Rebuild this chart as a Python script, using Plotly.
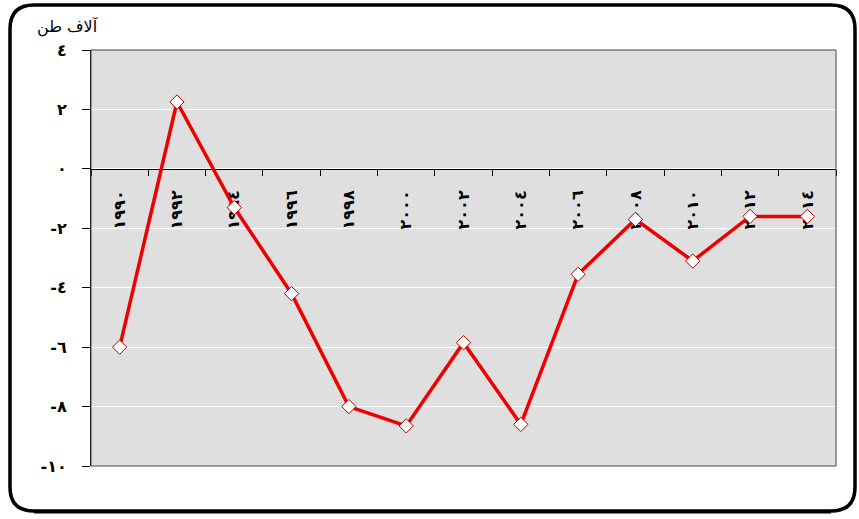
import plotly.graph_objects as go

# Annual balance, thousand tonnes
years = ["١٩٩٠", "١٩٩٢", "١٩٩٤", "١٩٩٦", "١٩٩٨", "٢٠٠٠", "٢٠٠٢",
         "٢٠٠٤", "٢٠٠٦", "٢٠٠٨", "٢٠١٠", "٢٠١٢", "٢٠١٤"]
values = [-6.0, 2.25, -1.3, -4.2, -8.0, -8.65, -5.85,
          -8.6, -3.55, -1.7, -3.1, -1.6, -1.6]

y_ticks = [4, 2, 0, -2, -4, -6, -8, -10]
y_tick_text = ["٤", "٢", "٠", "-٢", "-٤", "-٦", "-٨", "-١٠"]
y_title = "آلاف طن"

W, H = 859, 519
L, R, T, B = 91, 23, 50, 53
PW, PH = W - L - R, H - T - B


def px(x):
    return (x - L) / PW


def py(y):
    return (H - B - y) / PH


fig = go.Figure()
fig.add_trace(go.Scatter(
    x=years, y=values, mode="lines+markers",
    line=dict(color="#ee0000", width=3.5),
    marker=dict(symbol="diamond", size=11, color="white",
                line=dict(color="#b00000", width=1)),
    hoverinfo="x+y", showlegend=False,
))

# rounded frame around the whole chart
x0, x1, y0, y1, r = 10, 855, 5, 511, 24
path = (f"M {px(x0 + r)},{py(y0)} L {px(x1 - r)},{py(y0)} "
        f"Q {px(x1)},{py(y0)} {px(x1)},{py(y0 + r)} "
        f"L {px(x1)},{py(y1 - r)} Q {px(x1)},{py(y1)} {px(x1 - r)},{py(y1)} "
        f"L {px(x0 + r)},{py(y1)} Q {px(x0)},{py(y1)} {px(x0)},{py(y1 - r)} "
        f"L {px(x0)},{py(y0 + r)} Q {px(x0)},{py(y0)} {px(x0 + r)},{py(y0)} Z")
shapes = [
    dict(type="path", path=path, xref="paper", yref="paper",
         line=dict(color="black", width=3.5), layer="below"),
    dict(type="line", xref="paper", yref="paper",
         x0=px(x0 + r), x1=px(x1 - r), y0=py(y1 + 1), y1=py(y1 + 1),
         line=dict(color="black", width=3)),
    # plot area border
    dict(type="rect", xref="paper", yref="paper", x0=0, x1=1, y0=0, y1=1,
         line=dict(color="#444444", width=1), layer="above"),
]

fig.add_annotation(text=y_title, xref="paper", yref="paper",
                   x=px(35), y=py(27), xanchor="left", yanchor="middle",
                   showarrow=False,
                   font=dict(family="DejaVu Sans", size=16, color="black"))

fig.update_layout(
    width=W, height=H,
    margin=dict(l=L, r=R, t=T, b=B),
    paper_bgcolor="white",
    plot_bgcolor="#dfdfdf",
    shapes=shapes,
    xaxis=dict(
        type="category", range=[-0.5, len(years) - 0.5],
        anchor="free", position=10 / 14, layer="below traces",
        showline=True, linecolor="black", linewidth=1.2,
        ticks="outside", ticklen=6, tickcolor="black", tickson="boundaries",
        tickangle=-90, ticklabelstandoff=14,
        tickfont=dict(family="DejaVu Sans", size=16, color="black",
                      weight="bold"),
        showgrid=False, zeroline=False,
    ),
    yaxis=dict(
        range=[-10, 4], tickvals=y_ticks, ticktext=y_tick_text,
        showline=True, linecolor="black", linewidth=1.2,
        ticks="outside", ticklen=8, tickcolor="black",
        ticklabelstandoff=12,
        tickfont=dict(family="DejaVu Sans", size=16, color="black",
                      weight="bold"),
        showgrid=True, gridcolor="white", gridwidth=1,
        zeroline=False,
    ),
)

fig.write_html("out.html")
